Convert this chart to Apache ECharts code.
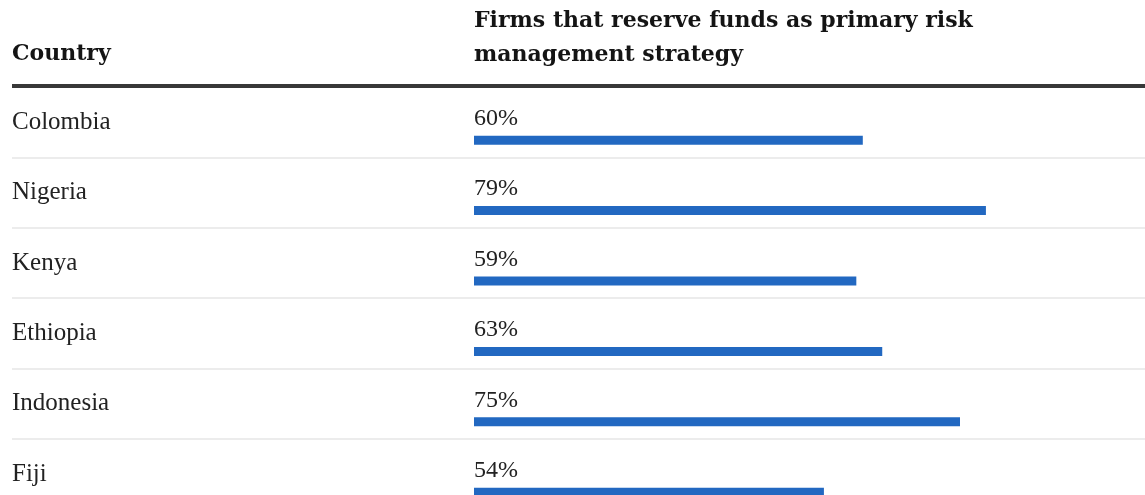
<!DOCTYPE html>
<html>
<head>
<meta charset="utf-8">
<script src="https://cdn.jsdelivr.net/npm/echarts@6/dist/echarts.min.js"></script>
<style>
  html, body { margin: 0; padding: 0; background: #ffffff; }
  #chart { width: 1145px; height: 495px; }
</style>
</head>
<body>
<div id="chart"></div>
<script>
// Table rows: country and share of firms reserving funds (%)
const countries = ['Colombia', 'Nigeria', 'Kenya', 'Ethiopia', 'Indonesia', 'Fiji'];
const shares = [60, 79, 59, 63, 75, 54];
const countryHeader = 'Country';
const valueHeader = 'Firms that reserve funds as primary risk\nmanagement strategy';

const rowHeight = 70.4;
const tableTop = 87;
const bodyFont = 'Liberation Serif';
const headFont = 'DejaVu Serif';

const chart = echarts.init(document.getElementById('chart'));

chart.setOption({
  backgroundColor: '#ffffff',
  animation: false,
  title: [
    {
      text: countryHeader,
      left: 12, top: 37, padding: 0,
      textStyle: { fontFamily: headFont, fontWeight: 'bold', fontSize: 22, lineHeight: 34, color: '#141414' }
    },
    {
      text: valueHeader,
      left: 474, top: 4, padding: 0,
      textStyle: { fontFamily: headFont, fontWeight: 'bold', fontSize: 22, lineHeight: 34, color: '#141414' }
    }
  ],
  grid: [
    // full-width rows: country names and row separators (last row runs past the bottom edge)
    { left: 12, right: 0, top: tableTop, height: rowHeight * countries.length, outerBoundsMode: 'none' },
    // bar column
    { left: 474, width: 648, top: tableTop + 18, height: rowHeight * countries.length, outerBoundsMode: 'none' }
  ],
  xAxis: [
    { gridIndex: 0, type: 'value', min: 0, max: 100, show: false },
    { gridIndex: 1, type: 'value', min: 0, max: 100, show: false }
  ],
  yAxis: [
    {
      gridIndex: 0, type: 'category', inverse: true, data: countries,
      axisLine: { show: false }, axisTick: { show: false },
      axisLabel: {
        inside: true, margin: 0, align: 'left', verticalAlign: 'middle',
        padding: [7, 0, 0, 0],
        fontFamily: bodyFont, fontSize: 25, color: '#222222'
      },
      splitLine: { show: true, lineStyle: { color: '#e6e6e6', width: 1.5 } }
    },
    {
      gridIndex: 1, type: 'category', inverse: true, data: countries, show: false
    }
  ],
  series: [
    {
      type: 'bar',
      xAxisIndex: 1, yAxisIndex: 1,
      data: shares,
      barWidth: 9,
      itemStyle: { color: '#2268c1' },
      label: {
        show: true,
        position: [0, -5],
        align: 'left', verticalAlign: 'bottom',
        formatter: '{c}%',
        fontFamily: bodyFont, fontSize: 24, color: '#222222'
      }
    }
  ],
  graphic: [
    {
      type: 'rect', z: 100,
      shape: { x: 12, y: 84, width: 1133, height: 4 },
      style: { fill: '#383838' }
    }
  ]
});
</script>
</body>
</html>
